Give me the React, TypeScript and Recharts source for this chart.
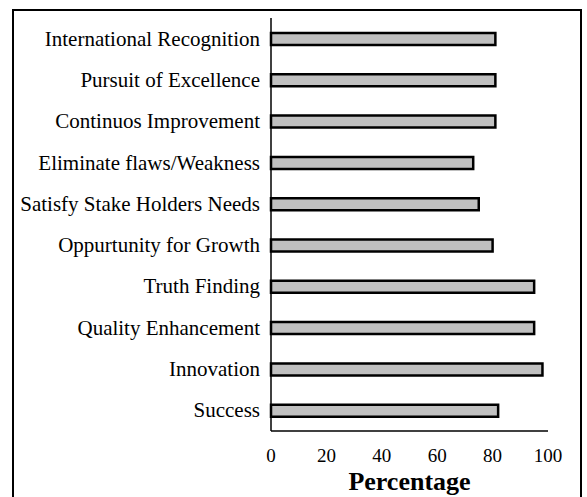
import React from "react";
import { BarChart, Bar, XAxis, YAxis } from "recharts";

const categorias = [
  "International Recognition",
  "Pursuit of Excellence",
  "Continuos Improvement",
  "Eliminate flaws/Weakness",
  "Satisfy Stake Holders Needs",
  "Oppurtunity for Growth",
  "Truth Finding",
  "Quality Enhancement",
  "Innovation",
  "Success",
];

const percentuais = [81, 81, 81, 73, 75, 80, 95, 95, 98, 82];

const ticksX = [0, 20, 40, 60, 80, 100];

const fonte = "Liberation Serif";

// rótulo das categorias, alinhado à direita do eixo
const TickCategoria = ({ x, y, payload }: any) => (
  <text
    x={x}
    y={y}
    dy={7}
    textAnchor="end"
    fill="#000"
    style={{ fontFamily: fonte, fontSize: 21 }}
  >
    {payload.value}
  </text>
);

const TickValor = ({ x, y, payload }: any) => (
  <text
    x={x}
    y={y}
    dy={13}
    textAnchor="middle"
    fill="#000"
    style={{ fontFamily: fonte, fontSize: 19 }}
  >
    {payload.value}
  </text>
);

export default function App() {
  const dados = categorias.map((nome, i) => ({
    nome,
    valor: percentuais[i],
  }));

  return (
    <div
      style={{
        position: "fixed",
        left: 0,
        top: 0,
        width: 587,
        height: 497,
        overflow: "hidden",
        background: "#fff",
        fontFamily: fonte,
      }}
    >
      {/* moldura externa */}
      <div
        style={{
          position: "absolute",
          left: 12,
          top: 9,
          width: 566,
          height: 520,
          border: "2px solid #000",
        }}
      />
      <div style={{ position: "absolute", left: 0, top: 0 }}>
        <BarChart
          layout="vertical"
          width={587}
          height={497}
          data={dados}
          margin={{ top: 18, right: 39, left: 0, bottom: 0 }}
          barCategoryGap={0}
          style={{ fontFamily: fonte }}
        >
          <XAxis
            type="number"
            domain={[0, 100]}
            ticks={ticksX}
            interval={0}
            height={66}
            tickLine={false}
            tickSize={0}
            tickMargin={18}
            axisLine={{ stroke: "#000", strokeWidth: 1.5 }}
            tick={<TickValor />}
            label={{
              value: "Percentage",
              position: "insideBottom",
              offset: 7,
              fill: "#000",
              fontSize: 26,
              fontWeight: "bold",
              fontFamily: fonte,
            }}
          />
          <YAxis
            type="category"
            dataKey="nome"
            width={271}
            interval={0}
            tickLine={false}
            tickSize={0}
            tickMargin={11}
            axisLine={{ stroke: "#000", strokeWidth: 1.5 }}
            tick={<TickCategoria />}
          />
          <Bar
            dataKey="valor"
            barSize={12}
            fill="#c0c0c0"
            stroke="#000"
            strokeWidth={2.5}
            isAnimationActive={false}
          />
        </BarChart>
      </div>
    </div>
  );
}
